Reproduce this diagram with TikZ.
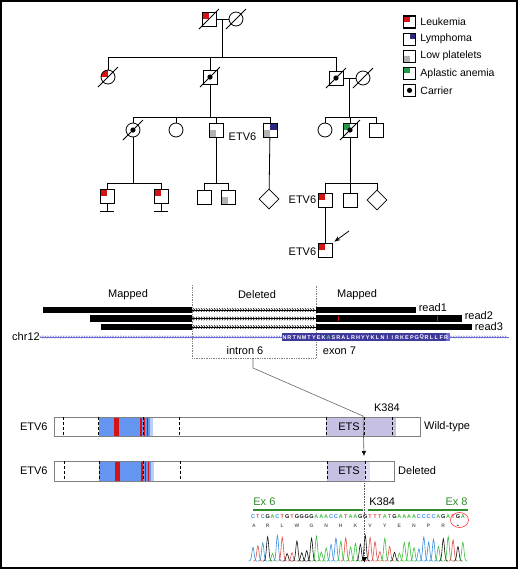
\documentclass[tikz,border=0pt]{standalone}
\usepackage{fontspec}
\setmainfont{Liberation Sans}
\usetikzlibrary{shapes.geometric,arrows.meta,positioning,backgrounds,decorations.markings}

\definecolor{leuk}{HTML}{D41414}
\definecolor{lymph}{HTML}{2C2880}
\definecolor{plat}{HTML}{B2B2B2}
\definecolor{aplast}{HTML}{1E9A4A}
\definecolor{pnt}{HTML}{6495F0}
\definecolor{etsc}{HTML}{C6C1E3}
\definecolor{chrc}{HTML}{6C6CD6}
\definecolor{aabox}{HTML}{3E3A9C}
\definecolor{aagreen}{HTML}{70E070}
\definecolor{exgreen}{HTML}{2E8B2E}
\definecolor{baseA}{HTML}{3DBE3D}
\definecolor{baseC}{HTML}{3A8EDB}
\definecolor{baseG}{HTML}{151515}
\definecolor{baseT}{HTML}{E0504A}

\newcommand{\dead}[1]{\draw ([shift={(-10,10)}]#1.center) -- ([shift={(10,-10)}]#1.center);}
\newcommand{\carrier}[1]{\fill (#1.center) circle[radius=2.6];}
\newcommand{\affect}[4]{\begin{scope}[on background layer]\fill[#4] (#1.center) rectangle ([shift={(#2,#3)}]#1.center);\end{scope}}

\begin{document}
\begin{tikzpicture}[x=1pt,y=-1pt,line width=0.8pt,font=\fontsize{11}{13}\selectfont,
  male/.style={rectangle,draw,minimum size=14,inner sep=0},
  female/.style={circle,draw,minimum size=14,inner sep=0},
  sexless/.style={diamond,draw,minimum size=20,inner sep=0},
  keybox/.style={rectangle,draw,line width=1.1pt,minimum size=12,inner sep=0},
  keytext/.style={inner sep=1pt,font=\fontsize{10.5}{12}\selectfont},
  readbar/.style={rectangle,fill=black,inner sep=0,minimum height=6.5},
  chev/.style={line width=0.6pt,postaction={decorate},decoration={markings,mark=between positions 0 and 1 step 2.6pt with {\arrow{Straight Barb[length=1.3pt,width=#1]}}}},
  chev/.default=3.6pt,
  protein/.style={rectangle,draw=gray,line width=0.8pt,minimum height=19,inner sep=0},
  dom/.style={black,densely dashed,line width=0.7pt},
  seqfont/.style={inner sep=0,font=\fontsize{5.5}{6}\selectfont\bfseries}]
\useasboundingbox (0,0) rectangle (520,574);
\draw[line width=2pt] (1,1) rectangle (517,568);

% pedigree
\node[male] (g1a) at (209,19) {};
\node[female] (g1b) at (236,19) {};
\affect{g1a}{-7}{-7}{leuk}
\dead{g1a} \dead{g1b}
\draw (g1a) -- (g1b);
\coordinate (m1) at (222.5,19);
\coordinate (s2) at (0,57);
\draw (m1) -- (m1 |- s2);

\node[female] (g2a) at (108,77) {};
\node[male] (g2b) at (210,77) {};
\node[male] (g2c) at (336,78) {};
\node[female] (g2d) at (363,78) {};
\begin{scope}[on background layer]
  \begin{scope}
    \clip (g2a.center) circle[radius=7];
    \fill[leuk] (g2a.center) rectangle ([shift={(-7,-7)}]g2a.center);
  \end{scope}
\end{scope}
\carrier{g2b} \carrier{g2c}
\dead{g2a} \dead{g2b} \dead{g2c} \dead{g2d}
\draw (g2a |- s2) -- (g2c |- s2);
\foreach \n in {g2a,g2b,g2c} \draw (\n) -- (\n |- s2);
\draw (g2c) -- (g2d);
\coordinate (m2) at (349.5,78);
\coordinate (s3) at (0,117);
\draw (g2b) -- (g2b |- s3);
\draw (m2) -- (m2 |- s3);

\node[female] (g3a) at (133,130) {};
\node[female] (g3b) at (176,130) {};
\node[male] (g3c) at (216,130) {};
\node[male] (g3d) at (270,130) {};
\node[female] (g3e) at (325,130) {};
\node[male] (g3f) at (350,130) {};
\node[male] (g3g) at (376,130) {};
\affect{g3c}{-7}{7}{plat}
\affect{g3d}{7}{-7}{lymph}
\affect{g3d}{-7}{7}{plat}
\affect{g3f}{-7}{-7}{aplast}
\carrier{g3a} \carrier{g3f}
\dead{g3a} \dead{g3f}
\draw (g3a |- s3) -- (g3d |- s3);
\draw (g3e |- s3) -- (g3g |- s3);
\foreach \n in {g3a,g3b,g3c,g3d,g3e,g3f,g3g} \draw (\n) -- (\n |- s3);
\node[inner sep=1pt] (e1) at (242.5,137) {ETV6};

\coordinate (s4) at (0,183);
\node[male] (g4a) at (107,196) {};
\node[male] (g4b) at (161,196) {};
\node[male] (g4c) at (204,197) {};
\node[male] (g4d) at (228,197) {};
\node[sexless] (g4e) at (269,199) {};
\node[male] (g4f) at (325,200) {};
\node[male] (g4g) at (350,200) {};
\node[sexless] (g4h) at (377,200) {};
\affect{g4a}{-7}{-7}{leuk}
\affect{g4b}{-7}{-7}{leuk}
\affect{g4d}{-7}{7}{plat}
\affect{g4f}{-7}{-7}{leuk}
\foreach \p in {g3a,g3c,g3f} \draw (\p) -- (\p |- s4);
\draw (g4a |- s4) -- (g4b |- s4);
\draw (g4c |- s4) -- (g4d |- s4);
\draw (g4f |- s4) -- (g4h |- s4);
\foreach \n in {g4a,g4b,g4c,g4d,g4f,g4g,g4h} \draw (\n) -- (\n |- s4);
\draw (g3d) -- (g4e);
\foreach \n in {g4a,g4b} {
  \draw (\n.south) -- ++(0,8) coordinate (\n t);
  \draw ([xshift=-7]\n t) -- ([xshift=7]\n t);
}
\node[left=0pt of g4f,inner sep=1pt] (e2) {ETV6};

\node[male] (g5a) at (325,250) {};
\affect{g5a}{-7}{-7}{leuk}
\draw (g4f) -- (g5a);
\node[left=0pt of g5a,inner sep=1pt,yshift=-2pt] (e3) {ETV6};
\coordinate (pb) at (349,231);
\draw[-{Stealth[length=6pt,width=4.5pt]}] (pb) -- ([shift={(2,-1)}]g5a.north east);

% legend
\node[keybox] (k1) at (409.5,22) {};
\node[keybox,below=4pt of k1] (k2) {};
\node[keybox,below=4pt of k2] (k3) {};
\node[keybox,below=4pt of k3] (k4) {};
\node[keybox,below=4pt of k4] (k5) {};
\affect{k1}{-6}{-6}{leuk}
\affect{k2}{6}{-6}{lymph}
\affect{k3}{-6}{6}{plat}
\affect{k4}{-6}{-6}{aplast}
\carrier{k5}
\node[keytext,right=3pt of k1] (t1) {Leukemia};
\node[keytext,right=3pt of k2] (t2) {Lymphoma};
\node[keytext,right=3pt of k3] (t3) {Low platelets};
\node[keytext,right=3pt of k4] (t4) {Aplastic anemia};
\node[keytext,right=3pt of k5] (t5) {Carrier};

% reads
\draw[gray,densely dotted,line width=0.7pt] (192,285) -- (192,358) -- (316,358) -- (316,285);
\node (map1) at (128,295) {Mapped};
\node (delt) at (257,295) {Deleted};
\node (map2) at (357,295) {Mapped};
\node[readbar,minimum width=149] (r1a) at (117.5,310) {};
\node[readbar,minimum width=100] (r1b) at (366,310) {};
\node[readbar,minimum width=102] (r2a) at (141,318.5) {};
\node[readbar,minimum width=146] (r2b) at (389,318.5) {};
\node[readbar,minimum width=91] (r3a) at (146.5,327) {};
\node[readbar,minimum width=156] (r3b) at (394,327) {};
\fill[leuk] (337.5,316) rectangle (338.9,321);
\fill[leuk] (436.5,316) rectangle (438.2,321);
\draw[chev] (r1a.east) -- (r1b.west);
\draw[chev] (r2a.east) -- (r2b.west);
\draw[chev] (r3a.east) -- (r3b.west);
\node[right=1pt of r1b,inner sep=1pt,yshift=2pt] (l1) {read1};
\node[right=1pt of r2b,inner sep=1pt,yshift=3pt] (l2) {read2};
\node[right=1pt of r3b,inner sep=1pt] (l3) {read3};

\node[inner sep=1pt] (chr) at (26,337) {chr12};
\coordinate (chrend) at (509,337);
\draw[chev=2.6pt,chrc,line width=0.5pt] (chr.east) -- (chrend);
\node[rectangle,fill=aabox,minimum width=168,minimum height=8.5,inner sep=0] (aa) at (366,337) {};
\fill[chrc] (446,332.75) rectangle (450,341.25);
\foreach \k/\c [count=\i] in {white/N,white/R,white/T,white/N,white/M,white/T,white/Y,white/E,white/K,aagreen/A,white/S,white/R,white/A,white/L,white/R,white/H,white/Y,white/Y,white/K,white/L,white/N,white/I,white/I,white/R,white/K,white/E,white/P,white/G,white/Q,white/R,white/L,white/L,white/F,white/R}
  \node[text=\k,inner sep=0,font=\fontsize{5.5}{6}\selectfont\bfseries] (a\i) at ({284.5+4.9*(\i-1)},337.4) {\c};
\node (intr) at (245,351) {intron 6};
\node (exn) at (339.5,351) {exon 7};

\coordinate (ibot) at (253,358);
\coordinate (kpt) at (363,416);
\draw[gray!80!black,line width=0.6pt] (ibot) -- ++(0,10) -- (kpt);

% proteins
\node[protein,minimum width=366,anchor=west] (wt) at (54,426.5) {};
\node[protein,minimum width=340,anchor=west,minimum height=20] (dl) at (54,471) {};
\begin{scope}[on background layer]
  \fill[pnt] (99,417) rectangle (153,436);
  \fill[pnt!45] (150,417) rectangle (153,436);
  \fill[leuk] (114,417) rectangle (119,436);
  \fill[leuk] (140,417) rectangle (142.2,436);
  \fill[leuk] (144.2,417) rectangle (145.4,436);
  \fill[leuk] (147,417) rectangle (148.4,436);
  \fill[etsc] (326,417) rectangle (396,436);
  \fill[pnt] (99,461) rectangle (154,481);
  \fill[pnt!45] (151,461) rectangle (154,481);
  \fill[leuk] (114.7,461) rectangle (119.7,481);
  \fill[leuk] (140.7,461) rectangle (142.9,481);
  \fill[leuk] (144.9,461) rectangle (146.1,481);
  \fill[leuk] (147.7,461) rectangle (149.1,481);
  \fill[etsc] (327,461) rectangle (370,481);
  \fill[etsc!55] (365,461) rectangle (370,481);
\end{scope}
\foreach \xd in {63,98,143,179,326,364,392} \draw[dom] (\xd,417) -- (\xd,436);
\foreach \xd in {64,99,143.7,180,327,365} \draw[dom] (\xd,461) -- (\xd,481);
\node (ets1) at (349,426.5) {ETS};
\node (ets2) at (349,471) {ETS};
\node (k384) at (387,408) {K384};
\node[left=5pt of wt,inner sep=1pt] (p1) {ETV6};
\node[left=5pt of dl,inner sep=1pt] (p2) {ETV6};
\node[right=2pt of wt,inner sep=1pt] (wtl) {Wild-type};
\node[right=2pt of dl,inner sep=1pt] (dll) {Deleted};
\coordinate (dtop) at (364,456);
\draw[gray!70!black,line width=0.6pt,-{Latex[length=5pt,width=4.5pt,black]}] (kpt) -- (dtop);

% chromatogram
\node[text=exgreen,anchor=west,inner sep=0] (ex6) at (253,502) {Ex 6};
\node[anchor=west,inner sep=0] (kk) at (369,502) {K384};
\node[text=exgreen,anchor=east,inner sep=0] (ex8) at (468,502) {Ex 8};
\draw[exgreen,line width=2pt] (253,510) -- (363,510) (368,510) -- (468,510);
\pgfmathsetseed{12}
\foreach \b [count=\i] in {C,T,C,G,A,C,T,G,T,G,G,G,G,A,A,A,C,C,A,T,A,A,G,G,T,T,T,A,T,G,A,A,A,A,C,C,C,C,A,G,A,T,G,A} {
  \pgfmathsetmacro{\xb}{253+4.88*(\i-1)}
  \pgfmathsetmacro{\hb}{7+19*rnd}
  \node[seqfont,text=base\b] (s\i) at (\xb,517) {\b};
  \draw[base\b,line width=0.6pt] plot[domain=-4.5:4.5,samples=13,smooth] ({\xb+\x},{561-\hb*exp(-((\x)^2)/2.4)});
}
\node[inner sep=0,font=\fontsize{5}{6}\selectfont\bfseries,text=gray!80!black] (aa0) at (254,525.5) {A};
\foreach \c [count=\j] in {R,L,W,G,N,H,K,V,Y,E,N,P,R}
  \node[inner sep=0,font=\fontsize{5}{6}\selectfont\bfseries,text=gray!80!black] (aa\j) at ({267.6+14.64*(\j-1)},525.5) {\c};
\node[inner sep=0] (stop) at (458,526) {\tiny\textbullet};
\draw[red!80!white,line width=0.6pt] (459.5,520) ellipse[x radius=9,y radius=7.5];
\coordinate (cbot) at (364.5,562);
\draw[gray!70!black,densely dotted,line width=0.6pt] (dl.south -| cbot) -- (cbot);
\fill (cbot) -- ++(-2.5,-5) -- ++(5,0) -- cycle;
\end{tikzpicture}
\end{document}
